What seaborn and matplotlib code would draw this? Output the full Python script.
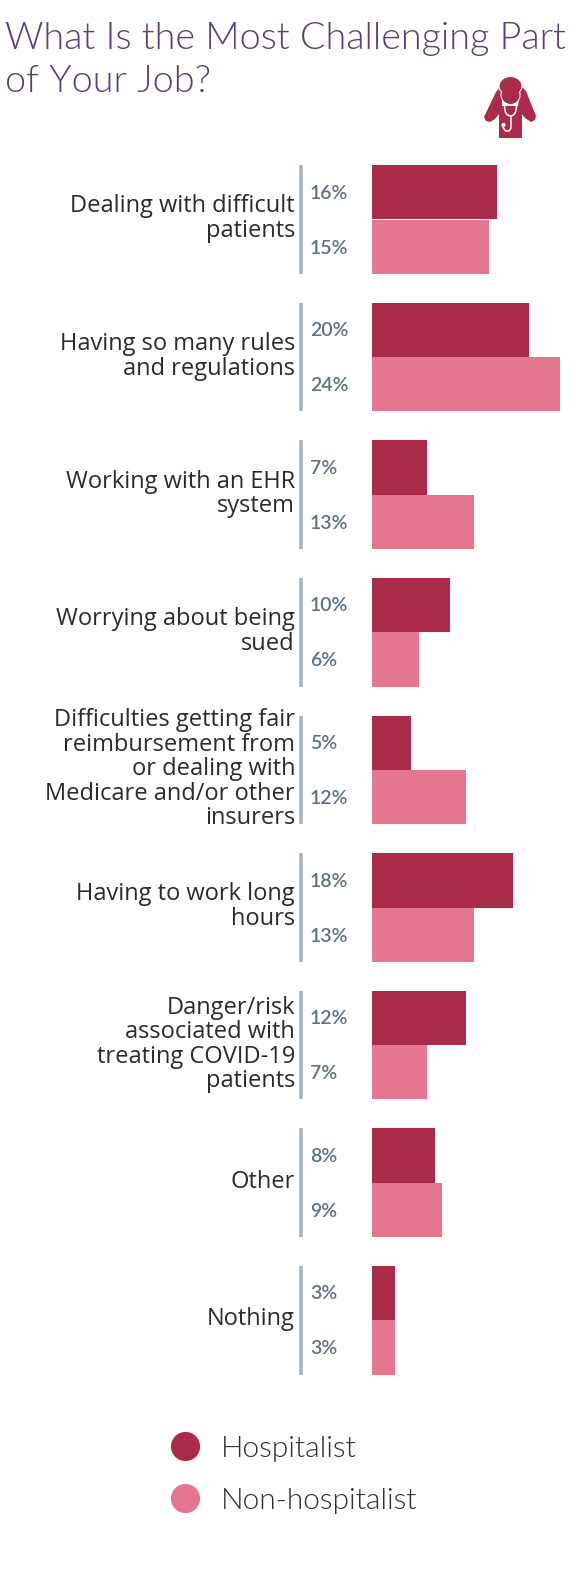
import matplotlib
matplotlib.use("Agg")
import matplotlib.pyplot as plt
from matplotlib.lines import Line2D
from matplotlib.patches import Polygon, Circle, Ellipse, PathPatch
from matplotlib.path import Path
from matplotlib.transforms import blended_transform_factory, ScaledTranslation
import pandas as pd
import seaborn as sns

categories = [
    "Dealing with difficult\npatients",
    "Having so many rules\nand regulations",
    "Working with an EHR\nsystem",
    "Worrying about being\nsued",
    "Difficulties getting fair\nreimbursement from\nor dealing with\nMedicare and/or other\ninsurers",
    "Having to work long\nhours",
    "Danger/risk\nassociated with\ntreating COVID-19\npatients",
    "Other",
    "Nothing",
]
hospitalist = [16, 20, 7, 10, 5, 18, 12, 8, 3]
non_hospitalist = [15, 24, 13, 6, 12, 13, 7, 9, 3]
series_names = ["Hospitalist", "Non-hospitalist"]
title_lines = ["What Is the Most Challenging Part", "of Your Job?"]

DARK = "#AA2B4A"
LIGHT = "#E5768F"
W, H = 580, 1588
PX_PER_PCT = 7.85
ROW = 137.6
FIRST_CENTER = 219.5
BAR_LEFT = 371.7

sns.set_theme(style="white")
plt.rcParams["font.family"] = ["Lato", "DejaVu Sans"]

df = pd.DataFrame({
    "label": categories * 2,
    "value": hospitalist + non_hospitalist,
    "group": [series_names[0]] * 9 + [series_names[1]] * 9,
})

fig = plt.figure(figsize=(W / 100, H / 100), dpi=100, facecolor="white")
ax = fig.add_axes([BAR_LEFT / W, 0, 1 - BAR_LEFT / W, 1])
sns.barplot(data=df, y="label", x="value", hue="group", order=categories,
            hue_order=series_names, palette=[DARK, LIGHT], width=0.79, gap=0,
            dodge=True, saturation=1, errorbar=None, legend=False, ax=ax,
            linewidth=0)

# Axis limits chosen so one percentage point and one row have fixed pixel sizes
ax.set_xlim(0, (W - BAR_LEFT) / PX_PER_PCT)
ax.set_ylim((H - FIRST_CENTER) / ROW, -FIRST_CENTER / ROW)
ax.set_xlabel("")
ax.set_ylabel("")
ax.xaxis.set_visible(False)
for spine in ax.spines.values():
    spine.set_visible(False)
ax.patch.set_alpha(0)

# Category labels sit left of the per-group rule
ax.set_yticks(range(len(categories)))
ax.set_yticklabels(categories, fontsize=17.0, color="#2B2B2B", ha="right",
                   linespacing=1.03, family=["Open Sans", "DejaVu Sans"])
ax.tick_params(axis="y", length=0, pad=(BAR_LEFT - 295) * 0.72)
nudge = ScaledTranslation(0, 4 / 100, fig.dpi_scale_trans)
for lab in ax.get_yticklabels():
    lab.set_transform(lab.get_transform() + nudge)

# Grey rule beside each group
trans = blended_transform_factory(fig.transFigure, ax.transData)
for i in range(len(categories)):
    ax.plot([301 / W, 301 / W], [i - 0.395, i + 0.395], transform=trans,
            color="#A9B5BC", lw=2.6, solid_capstyle="butt", clip_on=False)

# Percentage labels for both series
for i, (a, b) in enumerate(zip(hospitalist, non_hospitalist)):
    for offset, v in ((-0.2, a), (0.2, b)):
        ax.text(310 / W, i + offset + 0.008, f"{v}%", transform=trans, ha="left",
                va="center", fontsize=14.0, fontweight=600, color="#5E7380")

for text, baseline in zip(title_lines, (49.5, 92.5)):
    fig.text(5 / W, 1 - baseline / H, text, fontsize=27.2, color="#5B3E74",
             fontweight=300, ha="left", va="baseline")

# Legend with round swatches
handles = [Line2D([], [], ls="", marker="o", ms=21, color=c, mew=0) for c in (DARK, LIGHT)]
fig.legend(handles, series_names, loc="upper left",
           bbox_to_anchor=(128 / W, 1 - 1409 / H), frameon=False,
           labelcolor="#2F2F2F", labelspacing=0.86, handlelength=2.0, handletextpad=0.2,
           prop={"family": "Lato", "size": 21.5, "weight": 300})

# Doctor-holding-head icon, drawn in a pixel-sized overlay
ov = fig.add_axes([0, 0, 1, 1], facecolor="none")
ov.set_xlim(0, W)
ov.set_ylim(H, 0)
ov.axis("off")
body = [(484, 117), (496, 92), (500, 87), (503, 90), (502, 100), (502, 106),
        (518, 106), (519, 100), (519, 90), (522, 87), (526, 91), (536, 116),
        (535, 120), (531, 122), (525, 118), (522, 114), (522, 138), (499, 138),
        (499, 114), (495, 119), (490, 122), (486, 121)]
ov.add_patch(Polygon(body, closed=True, fc=DARK, ec="none"))
ov.add_patch(Ellipse((510.5, 95), 19, 19, fc=DARK, ec="white", lw=0.8))
ov.add_patch(Ellipse((510.5, 86), 23, 19, fc=DARK, ec="white", lw=0.8))
ov.add_patch(Ellipse((510.5, 95), 17.4, 17.4, fc=DARK, ec="none"))
steth_u = Path([(504.5, 105), (504.5, 116), (510.5, 116), (516.5, 116), (516.5, 105)],
               [Path.MOVETO, Path.CURVE3, Path.CURVE3, Path.CURVE3, Path.CURVE3])
steth_tube = Path([(511, 115), (511, 126), (511, 132), (506, 131), (503, 129), (503, 126)],
                  [Path.MOVETO, Path.LINETO, Path.CURVE3, Path.CURVE3, Path.CURVE3, Path.CURVE3])
ov.add_patch(PathPatch(steth_u, fc="none", ec="white", lw=1.1))
ov.add_patch(PathPatch(steth_tube, fc="none", ec="white", lw=1.1))
ov.add_patch(Circle((503.5, 125), 2.1, fc="white", ec="none"))

fig.savefig("out.png", dpi=100, facecolor="white")
